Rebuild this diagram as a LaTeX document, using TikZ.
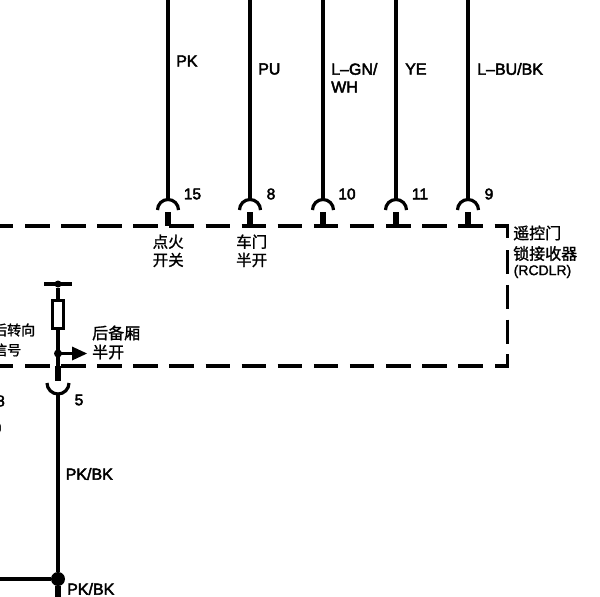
\documentclass[tikz,border=0pt]{standalone}
\usepackage{fontspec}
\setmainfont{Liberation Sans}
\newfontfamily\cjk{Noto Sans CJK SC}
\newcommand{\hv}[2][0.45]{\special{pdf:code 2 Tr #1 w}#2\special{pdf:code 0 Tr}}
\tikzset{
  wire/.style={line width=3.4pt,black},
  dashbox/.style={line width=3.4pt,black,dash pattern=on 24.5pt off 11.6pt},
  sidedash/.style={line width=3.4pt,black,dash pattern=on 24pt off 10.8pt},
  stem/.style={line width=6.5pt,black},
  cup/.style={line width=3.2pt,black},
  lab/.style={font=\fontsize{16}{18}\selectfont,inner sep=0pt,anchor=west},
  pinlab/.style={font=\fontsize{15.5}{17}\selectfont,inner sep=0pt,anchor=center},
  zh/.style={font=\cjk\fontsize{15.5}{18.5}\selectfont,inner sep=0pt,anchor=west},
  zhbig/.style={zh,font=\cjk\fontsize{16}{19}\selectfont},
  zhsmall/.style={zh,font=\cjk\fontsize{14}{19}\selectfont},
  dot/.style={circle,fill=black,inner sep=0pt},
}
\begin{document}
\begin{tikzpicture}[x=1pt,y=-1pt]
\useasboundingbox (0,0) rectangle (600,597);
\clip (0,0) rectangle (600,597);
% module outline
\coordinate (tl) at (-11.1,226);
\coordinate (te) at (482.7,226);
\coordinate (c1a) at (494.5,226);
\coordinate (tr) at (507.5,226);
\coordinate (c1b) at (507.5,238);
\coordinate (s1) at (507.5,250);
\coordinate (s2) at (507.5,343.5);
\coordinate (c2a) at (507.5,354);
\coordinate (br) at (507.5,366);
\coordinate (c2b) at (494.5,366);
\coordinate (be) at (482.7,366);
\coordinate (bl) at (-11.1,366);
\draw[dashbox] (tl) -- (te);
\draw[wire] (c1a) -- (tr) -- (c1b);
\draw[sidedash] (s1) -- (s2);
\draw[wire] (c2a) -- (br) -- (c2b);
\draw[dashbox] (bl) -- (be);
% top connectors
\foreach \n/\x in {a/168,b/250,c/323,d/396,e/468}{
  \coordinate (top\n) at (\x,0);
  \coordinate (pin\n) at (\x,200);
  \coordinate (foot\n) at (\x,226);
  \coordinate (stem\n) at (\x,212);
  \coordinate (arc\n) at (\x-10.5,210);
  \draw[wire] (top\n) -- (pin\n);
  \draw[cup] (arc\n) arc[start angle=180,end angle=0,radius=10.5pt];
  \draw[stem] (stem\n) -- (foot\n);
}
\node[pinlab] (n15) at (192.5,194) {\hv{15}};
\node[pinlab] (n8) at (271,194) {\hv{8}};
\node[pinlab] (n10) at (347,194) {\hv{10}};
\node[pinlab] (n11) at (420,194) {\hv{11}};
\node[pinlab] (n9) at (489,194) {\hv{9}};
\node[lab] (lpk) at (176,61) {\hv{PK}};
\node[lab] (lpu) at (258,69) {\hv{PU}};
\node[lab] (lgn) at (331,69) {\hv{L–GN/}};
\node[lab] (lgnb) at (331,87) {\hv{WH}};
\node[lab] (lye) at (405,69) {\hv{YE}};
\node[lab] (lbu) at (477,69) {\hv{L–BU/BK}};
\node[zh] (zha) at (152.5,241.7) {\hv[0.2]{点火}};
\node[zh] (zhaa) at (152.5,260) {\hv[0.2]{开关}};
\node[zh] (zhb) at (236,241.7) {\hv[0.2]{车门}};
\node[zh] (zhbb) at (236,260) {\hv[0.2]{半开}};
\node[zhbig] (zhc) at (513,233) {\hv[0.2]{遥控门}};
\node[zhbig] (zhcc) at (513,253.5) {\hv[0.2]{锁接收器}};
\node[lab,font=\fontsize{14}{15}\selectfont] (rcdlr) at (513.5,271.5) {\hv[0.2]{(RCDLR)}};
% internal circuit
\node[dot,minimum size=7pt] (raildot) at (58,284) {};
\coordinate (raill) at (44,284);
\coordinate (railr) at (72,284);
\draw[wire] (raill) -- (railr);
\node[draw,line width=3pt,minimum width=11pt,minimum height=28pt,inner sep=0pt] (res) at (58,314.5) {};
\coordinate (rest) at (58,300);
\coordinate (resb) at (58,329);
\node[dot,minimum size=8pt] (tap) at (58,353.5) {};
\coordinate (tapc) at (58,353.5);
\coordinate (arrowend) at (87,353.5);
\coordinate (arrowbase) at (72,353.5);
\draw[wire] (raildot) -- (rest);
\draw[wire] (resb) -- (tapc);
\draw[wire] (tapc) -- (arrowbase);
\fill (72,346.5) -- (arrowend) -- (72,360.5) -- cycle;
\coordinate (stemtop) at (58,366);
\coordinate (stembot) at (58,381);
\draw[wire] (tapc) -- (stemtop);
\draw[stem] (stemtop) -- (stembot);
\draw[cup] (47,383) arc[start angle=180,end angle=360,radius=11pt];
\node[pinlab] (n5) at (79,400) {\hv{5}};
\node[zhbig] (zhd) at (92,333) {\hv[0.2]{后备厢}};
\node[zhbig] (zhdd) at (92,352) {\hv[0.2]{半开}};
\node[zhsmall] (zhe) at (-7,330) {\hv[0.2]{后转向}};
\node[zhsmall] (zhee) at (-7,350) {\hv[0.2]{信号}};
\node[pinlab] (n3) at (0.5,401) {\hv{8}};
\node[pinlab] (n0) at (-3,428) {\hv{0}};
% lower wire
\node[dot,minimum size=14pt] (junc) at (58,579) {};
\coordinate (cupb) at (58,394);
\draw[wire] (cupb) -- (junc);
\coordinate (juncl) at (0,579);
\coordinate (juncb) at (58,597);
\draw[wire] (junc) -- (juncl);
\draw[stem] (junc) -- (juncb);
\node[lab] (lpb) at (65.5,474) {\hv{PK/BK}};
\node[lab] (lpc) at (67,589) {\hv{PK/BK}};
\end{tikzpicture}
\end{document}
